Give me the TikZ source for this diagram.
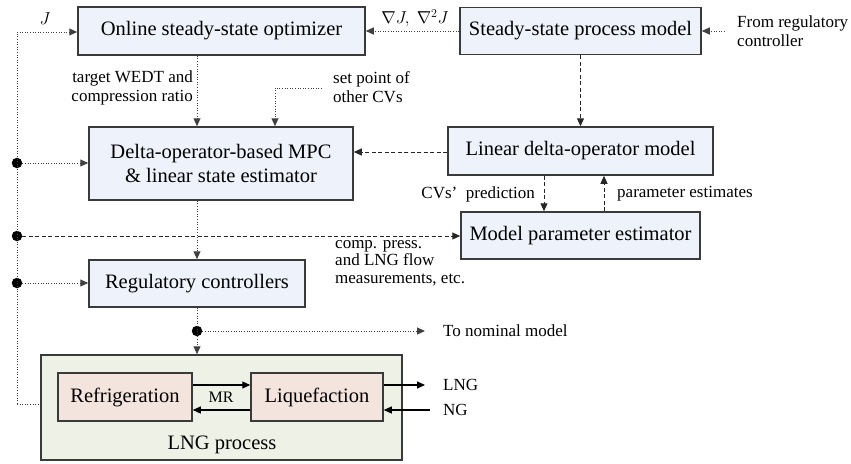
\documentclass[tikz,border=0pt]{standalone}
\usepackage{fontspec}
\setmainfont{Liberation Serif}
\usetikzlibrary{arrows.meta,calc}
\definecolor{boxblue}{HTML}{EEF2FA}
\definecolor{boxgreen}{HTML}{EEF2E6}
\definecolor{boxpink}{HTML}{F3E4DD}
\definecolor{edge}{HTML}{3A3A3A}
\begin{document}
\begin{tikzpicture}[x=1pt,y=-1pt,
  blk/.style={draw=edge,line width=1.5pt,fill=boxblue,inner sep=0pt,align=center,
    font=\fontsize{20.5}{24}\selectfont},
  subblk/.style={blk,fill=boxpink},
  lbl/.style={inner sep=0pt,font=\fontsize{17}{19}\selectfont},
  tip/.style={-{Triangle[length=8pt,width=7pt]}},
  dotln/.style={line width=1pt,dash pattern=on 1pt off 1.6pt,color=black!75},
  dashln/.style={line width=1pt,dash pattern=on 4pt off 2.5pt,color=black!85},
  solidln/.style={line width=1.1pt,color=black},
  jdot/.style={circle,fill=black,inner sep=0pt,minimum size=10.5pt}]
\useasboundingbox (0,0) rectangle (851,463);
% blocks
\node[blk,minimum width=287pt,minimum height=48pt] (opt) at (221.5,31) {Online steady-state optimizer};
\node[blk,minimum width=241pt,minimum height=47pt] (ssm) at (580.5,31) {Steady-state process model};
\node[blk,minimum width=264pt,minimum height=73pt] (mpc) at (221,163.5) {Delta-operator-based MPC\\\& linear state estimator};
\node[blk,minimum width=265pt,minimum height=48pt] (ldm) at (580.5,151) {Linear delta-operator model};
\node[blk,minimum width=239pt,minimum height=47pt] (mpe) at (580.5,235.5) {Model parameter estimator};
\node[blk,minimum width=216pt,minimum height=47pt] (reg) at (197,283.5) {Regulatory controllers};
\node[blk,fill=boxgreen,minimum width=361pt,minimum height=105pt] (lng) at (221.5,407.5) {};
\node[subblk,minimum width=134pt,minimum height=48pt] (ref) at (125,397) {Refrigeration};
\node[subblk,minimum width=132pt,minimum height=48pt] (liq) at (317,397) {Liquefaction};
\node[inner sep=0pt,font=\fontsize{20.5}{24}\selectfont] (lngl) at (222,445) {LNG process};
% coordinates
\coordinate (xa) at (197,0);
\coordinate (jstart) at (17,32);
\coordinate (bus1) at (17,163);
\coordinate (bus2) at (17,236);
\coordinate (bus3) at (17,283);
\coordinate (busend) at (17,404);
\coordinate (sp) at (322,88);
\coordinate (spc) at (275,88);
\coordinate (fr) at (725,31);
\coordinate (nom) at (197,331);
\coordinate (nomend) at (425,331);
\coordinate (lngout) at (425,385);
\coordinate (ngin) at (430,410);
% dots
\node[jdot] (d1) at (bus1) {};
\node[jdot] (d2) at (bus2) {};
\node[jdot] (d3) at (bus3) {};
\node[jdot] (d4) at (nom) {};
% left bus
\draw[dotln] (busend) -- (jstart);
\draw[dotln,tip] (jstart) -- (jstart -| opt.west);
\draw[dotln] (busend) -- (busend -| lng.west);
\draw[dotln,tip] (d1) -- (d1 -| mpc.west);
\draw[dashln,tip] (d2) -- (d2 -| mpe.west);
\draw[dotln,tip] (d3) -- (d3 -| reg.west);
% top
\draw[dotln,tip] (ssm.west) -- (ssm.west -| opt.east);
\draw[dotln,tip] (fr) -- (fr -| ssm.east);
\draw[dotln,tip] (opt.south -| xa) -- (mpc.north -| xa);
\draw[dotln,tip] (sp) -- (spc) -- (spc |- mpc.north);
\draw[dashln,tip] (ssm.south) -- (ldm.north);
\draw[dashln,tip] (ldm.west |- 0,152) -- (mpc.east |- 0,152);
\draw[dashln,tip] (ldm.south -| 544,0) -- (mpe.north -| 544,0);
\draw[dashln,tip] (mpe.north -| 604,0) -- (ldm.south -| 604,0);
% lower
\draw[dotln,tip] (mpc.south -| xa) -- (reg.north -| xa);
\draw[dotln,tip] (reg.south -| xa) -- (lng.north -| xa);
\draw[dotln,tip] (d4) -- (nomend);
\draw[solidln,tip] (ref.east |- 0,385) -- (liq.west |- 0,385);
\draw[solidln,tip] (liq.west |- 0,410) -- (ref.east |- 0,410);
\draw[solidln,tip] (liq.east |- 0,385) -- (lngout);
\draw[solidln,tip] (ngin) -- (liq.east |- 0,410);
% labels
\node[lbl] (lj) at (45,19) {$J$};
\node[lbl] (lgrad) at (415,18) {$\nabla J,\ \nabla^2 J$};
\node[lbl,anchor=west,align=left] (lfr) at (737,31) {From regulatory\\controller};
\node[lbl,anchor=east,align=right] (ltgt) at (193,87.5) {target WEDT and\\compression ratio};
\node[lbl,anchor=west,align=left] (lsp) at (333,87.5) {set point of\\other CVs};
\node[lbl,anchor=east] (lcv) at (535,194) {CVs'\ \ prediction};
\node[lbl,anchor=west] (lpe) at (617,194) {parameter estimates};
\node[lbl,anchor=west,align=left,font=\fontsize{17}{17.5}\selectfont] (lcp) at (335,263) {comp. press.\\and LNG flow\\measurements, etc.};
\node[lbl,anchor=west] (lnom) at (443,331) {To nominal model};
\node[lbl,anchor=west] (llng) at (443,385) {LNG};
\node[lbl,anchor=west] (lng2) at (443,410) {NG};
\node[lbl,font=\fontsize{16}{18}\selectfont] (lmr) at (221,397) {MR};
\end{tikzpicture}
\end{document}
